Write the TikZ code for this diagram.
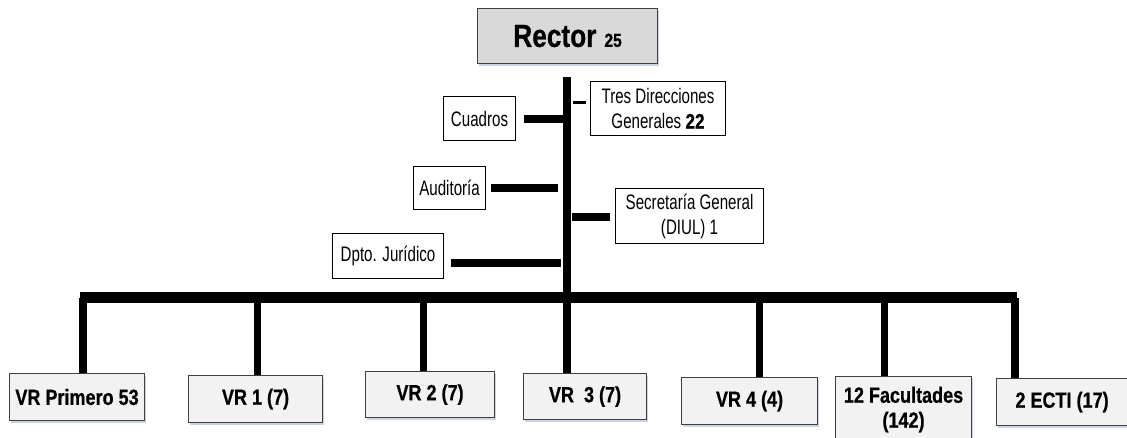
\documentclass[tikz,border=0pt]{standalone}
\usepackage{fontspec}
\setmainfont{Liberation Sans}[FakeStretch=0.72]
\newfontfamily\bnf{Liberation Sans}[FakeStretch=0.82, BoldFeatures={FakeBold=0.6}]
\usetikzlibrary{shadows}
\definecolor{boxgray}{HTML}{F2F2F2}
\definecolor{rectgray}{HTML}{D9D9D9}
\definecolor{edgegray}{HTML}{404040}
\definecolor{shadowblue}{HTML}{C9D3E3}
\begin{document}
\begin{tikzpicture}[x=1pt,y=-1pt,
  sidebox/.style={draw=black, line width=1.1pt, fill=white, align=center, inner sep=0pt,
    anchor=north west, font=\fontsize{21}{25}\selectfont},
  vrbox/.style={draw=edgegray, line width=1.1pt, fill=boxgray, align=center, inner sep=0pt,
    anchor=north west, font=\bnf\fontsize{22}{25}\selectfont\bfseries,
    drop shadow={shadow xshift=1pt, shadow yshift=-2pt, fill=shadowblue, opacity=1}},
  rectorbox/.style={draw=edgegray, line width=1.1pt, fill=rectgray, inner sep=0pt,
    anchor=north west,
    drop shadow={shadow xshift=1.5pt, shadow yshift=-2pt, fill=shadowblue, opacity=1}},
  trunk/.style={line width=8pt, black},
  bar/.style={line width=11pt, black},
  drop/.style={line width=7.5pt, black},
  side/.style={line width=8pt, black},
  thin side/.style={line width=3.5pt, black}]
\clip (0,0) rectangle (1127,437);
\fill[white] (0,0) rectangle (1127,437);

% Rector
\node[rectorbox, minimum width=180, minimum height=55] (rector) at (477,8)
  {\bnf\bfseries\fontsize{32}{36}\selectfont Rector\hspace{8pt}\fontsize{19}{20}\selectfont 25};

% side boxes
\node[sidebox, minimum width=72, minimum height=44] (cuad) at (443,96) {Cuadros};
\node[sidebox, minimum width=72, minimum height=43] (aud) at (413,166) {Auditoría};
\node[sidebox, minimum width=111, minimum height=45] (dpto) at (332,233) {Dpto. Jurídico};
\node[sidebox, minimum width=135, minimum height=54] (tres) at (590,81) {Tres Direcciones\\Generales {\bnf\bfseries 22}};
\node[sidebox, minimum width=148, minimum height=55] (secr) at (615,188) {Secretaría General\\(DIUL) 1};

% bottom boxes
\node[vrbox, minimum width=135, minimum height=47] (vr0) at (9,373) {VR Primero 53};
\node[vrbox, minimum width=134, minimum height=47] (vr1) at (188,375) {VR 1 (7)};
\node[vrbox, minimum width=129, minimum height=46] (vr2) at (365,371) {VR 2 (7)};
\node[vrbox, minimum width=123, minimum height=46] (vr3) at (523,373) {VR\ \ 3 (7)};
\node[vrbox, minimum width=136, minimum height=47] (vr4) at (681,377) {VR 4 (4)};
\node[vrbox, minimum width=136, minimum height=66] (fac) at (835,376) {12 Facultades\\(142)};
\node[vrbox, minimum width=131, minimum height=47] (ecti) at (996,378) {2 ECTI (17)};

% trunk and bar
\coordinate (ttop) at (567,77);
\coordinate (barL) at (80,297.5);
\coordinate (barR) at (1017,297.5);
\draw[trunk] (ttop) -- (ttop |- vr3.north);
\draw[bar] (barL) -- (barR);

% side connectors
\draw[side] ([xshift=8]cuad.east) -- ([xshift=-1]cuad.east -| ttop);
\draw[side] ([xshift=5]aud.east) -- ([xshift=-9]aud.east -| ttop);
\draw[side] ([yshift=-6.5,xshift=7]dpto.east) -- ([yshift=-6.5,xshift=-6]dpto.east -| ttop);
\draw[thin side] ([yshift=6,xshift=-4]tres.west) -- ([yshift=6,xshift=6]tres.west -| ttop);
\draw[side] ([yshift=-0.5,xshift=-5]secr.west) -- ([yshift=-0.5,xshift=5]secr.west -| ttop);

% drops
\draw[drop] ([xshift=6]vr0.north) -- ([xshift=6]vr0.north |- barL);
\draw[drop] ([xshift=2]vr1.north) -- ([xshift=2]vr1.north |- barL);
\draw[drop] ([xshift=-6.5]vr2.north) -- ([xshift=-6.5]vr2.north |- barL);
\draw[drop] ([xshift=10]vr4.north) -- ([xshift=10]vr4.north |- barL);
\draw[drop] ([xshift=-19]fac.north) -- ([xshift=-19]fac.north |- barL);
\draw[drop] ([xshift=-47]ecti.north) -- ([xshift=-47]ecti.north |- barL);
\end{tikzpicture}
\end{document}
